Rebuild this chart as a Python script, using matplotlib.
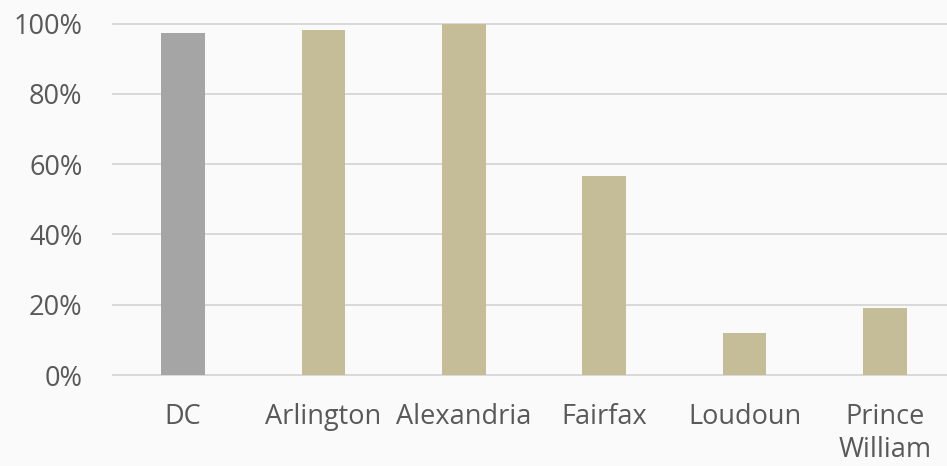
import matplotlib.pyplot as plt
from matplotlib.ticker import FuncFormatter

# values
regions = ["DC", "Arlington", "Alexandria", "Fairfax", "Loudoun", "Prince\nWilliam"]
shares = [0.972, 0.981, 1.0, 0.566, 0.119, 0.191]
bar_colors = ["#a5a5a5", "#c4bd97", "#c4bd97", "#c4bd97", "#c4bd97", "#c4bd97"]
y_ticks = [0, 0.2, 0.4, 0.6, 0.8, 1.0]

text_color = "#595959"
grid_color = "#d9d9d9"
bg = "#fafafa"

plt.rcParams['font.family'] = ['Open Sans', 'DejaVu Sans']

fig = plt.figure(figsize=(9.47, 4.66), dpi=100, facecolor=bg)
ax = fig.add_axes([113 / 947, 91 / 466, 842 / 947, 351.5 / 466])
ax.set_facecolor(bg)

x = list(range(len(regions)))
ax.bar(x, shares, width=0.313, color=bar_colors, zorder=3)

ax.set_xlim(-0.5, len(regions) - 0.5)
ax.set_ylim(0, 1.0)
ax.set_yticks(y_ticks)
ax.yaxis.set_major_formatter(FuncFormatter(lambda v, p: f"{v * 100:.0f}%"))
ax.set_xticks(x)
ax.set_xticklabels(regions, linespacing=1.25)

ax.grid(axis='y', color=grid_color, linewidth=1.4, zorder=0)
ax.set_axisbelow(True)
for s in ax.spines.values():
    s.set_visible(False)
ax.tick_params(axis='both', length=0, labelsize=19.5, colors=text_color)
ax.tick_params(axis='y', pad=22)
ax.tick_params(axis='x', pad=20)
# the 100% line sits right at the top edge, clip_on would cut it in half
for gl in ax.get_ygridlines():
    gl.set_clip_on(False)

fig.savefig("out.png", dpi=100, facecolor=bg)
